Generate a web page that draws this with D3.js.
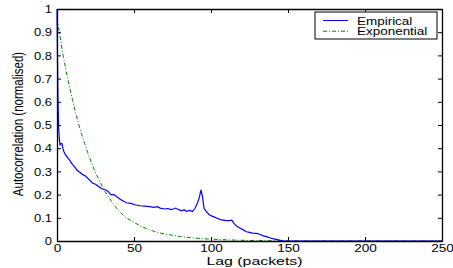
<!DOCTYPE html>
<html>
<head>
<meta charset="utf-8">
<script src="https://cdn.jsdelivr.net/npm/d3@7"></script>
<style>
  body { margin: 0; background: #fff; }
  svg { display: block; font-family: "Liberation Sans", Arial, sans-serif; }
  .axis path, .axis line { stroke: #000; }
  .axis text { font-size: 10.3px; fill: #000; }
</style>
</head>
<body>
<div id="chart"></div>
<script>
// lag (packets) and normalised autocorrelation
const empiricalLag = [0, 0.3, 0.6, 1, 1.5, 2, 2.6, 3.2, 3.8, 4.5, 5.5, 7, 8.5, 10, 12, 13, 15, 17, 18.5, 20, 21.5, 23, 25, 27, 29, 31, 33, 35, 37, 39, 41, 43, 45, 48, 51, 54, 57, 60, 63, 65, 67, 70, 72, 74, 75.5, 77, 79, 81, 82.5, 84, 86, 88, 89.5, 91, 92.5, 93.5, 94.5, 95.5, 97, 99, 101.5, 104, 106, 108, 110, 112, 113.5, 115, 117, 119, 121, 123, 125, 127, 129.5, 132, 134, 136, 138, 140, 142.5, 145, 147, 150, 170, 200, 230, 250];
const empiricalVal = [1.0, 0.80, 0.62, 0.50, 0.44, 0.415, 0.42, 0.42, 0.40, 0.385, 0.372, 0.358, 0.345, 0.33, 0.315, 0.305, 0.295, 0.285, 0.28, 0.27, 0.26, 0.25, 0.245, 0.235, 0.225, 0.222, 0.215, 0.2, 0.2, 0.19, 0.18, 0.172, 0.165, 0.162, 0.155, 0.152, 0.15, 0.148, 0.145, 0.148, 0.142, 0.138, 0.14, 0.135, 0.138, 0.142, 0.135, 0.13, 0.135, 0.128, 0.132, 0.127, 0.14, 0.16, 0.19, 0.22, 0.19, 0.14, 0.127, 0.112, 0.105, 0.098, 0.092, 0.09, 0.088, 0.088, 0.09, 0.075, 0.062, 0.055, 0.048, 0.04, 0.037, 0.034, 0.033, 0.028, 0.022, 0.019, 0.014, 0.01, 0.007, 0.003, 0.0, 0.0, 0.0, 0.0, 0.0, 0.0];

const exponentialLag = [0, 2, 4, 6, 8, 10, 12, 14, 16, 18, 20, 22, 24, 26, 28, 30, 33, 36, 40, 45, 50, 55, 60, 65, 70, 80, 90, 100, 110, 120, 140, 160, 200, 250];
const exponentialVal = [0.96, 0.88, 0.80, 0.73, 0.67, 0.61, 0.555, 0.505, 0.46, 0.42, 0.38, 0.345, 0.31, 0.28, 0.255, 0.225, 0.195, 0.165, 0.13, 0.1, 0.08, 0.062, 0.048, 0.038, 0.03, 0.019, 0.012, 0.008, 0.005, 0.003, 0.001, 0.0, 0.0, 0.0];

const xTicks = [0, 50, 100, 150, 200, 250];
const yTicks = [0, 0.1, 0.2, 0.3, 0.4, 0.5, 0.6, 0.7, 0.8, 0.9, 1];
const seriesNames = ["Empirical", "Exponential"];
const seriesColors = ["#0000ff", "#008000"];

let margin = {top: 9, right: 11, bottom: 27, left: 57},
    width = 453 - margin.left - margin.right,
    height = 268 - margin.top - margin.bottom;

// the reference text is drawn a bit wide, so stretch glyphs horizontally
function stretch(sel, factor) {
  sel.each(function() {
    let len = this.getComputedTextLength();
    d3.select(this).attr("textLength", len * factor).attr("lengthAdjust", "spacingAndGlyphs");
  });
}

let svg = d3.select("#chart").append("svg")
  .attr("width", 453).attr("height", 268)
  .append("g")
  .attr("transform", "translate(" + margin.left + "," + margin.top + ")");

let xScale = d3.scaleLinear().domain([0, 250]).range([0, width]);
let yScale = d3.scaleLinear().domain([0, 1]).range([height, 0]);

// inward ticks on all four sides, MATLAB style
let xAxis = d3.axisBottom(xScale).tickValues(xTicks).tickSizeInner(-4).tickSizeOuter(0).tickPadding(5);
let yAxis = d3.axisLeft(yScale).tickValues(yTicks).tickSizeInner(-4).tickSizeOuter(0).tickPadding(5)
  .tickFormat(d3.format("~g"));
let xTop = d3.axisTop(xScale).tickValues(xTicks).tickSizeInner(-4).tickSizeOuter(0).tickFormat("");
let yRight = d3.axisRight(yScale).tickValues(yTicks).tickSizeInner(-4).tickSizeOuter(0).tickFormat("");

let line = d3.line()
  .x(function(d) { return xScale(d[0]); })
  .y(function(d) { return yScale(d[1]); });

let empirical = empiricalLag.map(function(l, i) { return [l, empiricalVal[i]]; });
let exponential = exponentialLag.map(function(l, i) { return [l, exponentialVal[i]]; });

svg.append("path").datum(exponential)
  .attr("d", line).attr("fill", "none")
  .attr("stroke", seriesColors[1]).attr("stroke-width", 1)
  .style("stroke-dasharray", "4,2,1,2");

svg.append("path").datum(empirical)
  .attr("d", line).attr("fill", "none")
  .attr("stroke", seriesColors[0]).attr("stroke-width", 1.2);

let gx = svg.append("g").attr("class", "axis").attr("transform", "translate(0," + height + ")").call(xAxis);
let gy = svg.append("g").attr("class", "axis").call(yAxis);
svg.append("g").attr("class", "axis").call(xTop);
svg.append("g").attr("class", "axis").attr("transform", "translate(" + width + ",0)").call(yRight);
svg.selectAll(".axis path").attr("stroke-width", 1.3);

gx.selectAll("text").attr("dy", "0.62em");
stretch(gx.selectAll("text"), 1.32);
gy.selectAll("text").attr("dy", "0.36em");
stretch(gy.selectAll("text"), 1.26);

// axis labels
let xlab = svg.append("text")
  .attr("x", width / 2 + 5).attr("y", height + 24)
  .style("text-anchor", "middle").style("font-size", "11.5px")
  .text("Lag (packets)");
stretch(xlab, 1.38);

svg.append("text")
  .attr("transform", "rotate(-90) scale(1,1.2)")
  .attr("x", -height / 2 + 1).attr("y", -28)
  .style("text-anchor", "middle").style("font-size", "11.5px")
  .text("Autocorrelation (normalised)");

// legend
let legend = svg.append("g").attr("transform", "translate(" + (width - 127) + ",3)");
legend.append("rect").attr("width", 122).attr("height", 27)
  .attr("fill", "#fff").attr("stroke", "#000").attr("stroke-width", 1);
seriesNames.forEach(function(name, i) {
  let y = 8.5 + i * 10.7;
  legend.append("line")
    .attr("x1", 8).attr("x2", 33).attr("y1", y).attr("y2", y)
    .attr("stroke", seriesColors[i]).attr("stroke-width", 1)
    .style("stroke-dasharray", i == 1 ? "4,2,1,2" : null);
  let t = legend.append("text")
    .attr("x", 42).attr("y", y + 4)
    .style("font-size", "11.5px")
    .text(name);
  stretch(t, 1.17);
});
</script>
</body>
</html>
